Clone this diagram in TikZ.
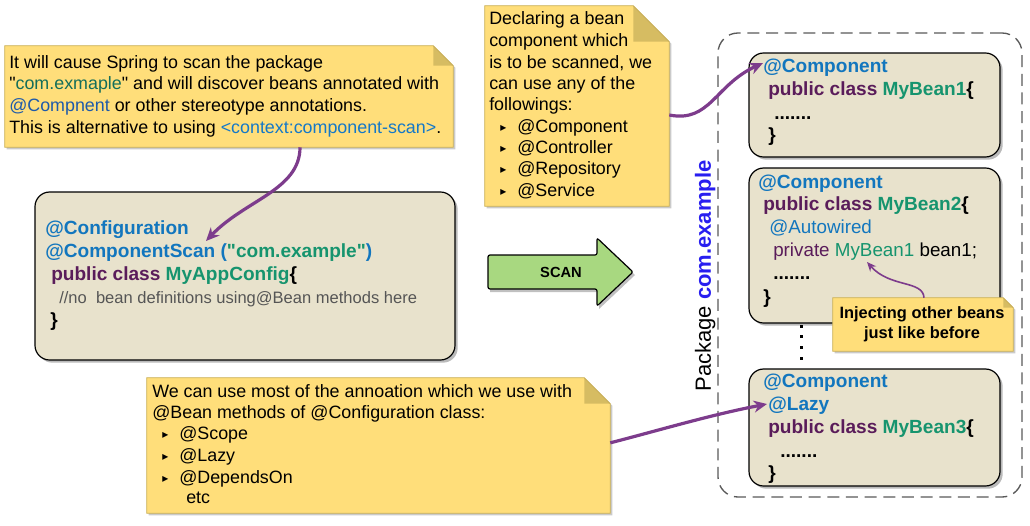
\documentclass[tikz,border=0pt]{standalone}
\usepackage{fontspec}
\setmainfont{Liberation Sans}
\newfontfamily\dejavu{DejaVu Sans}
\newfontfamily\qfont{Liberation Sans}
\usetikzlibrary{shadows,arrows.meta,fit}
\definecolor{notefill}{RGB}{255,222,122}
\definecolor{notefold}{RGB}{214,188,98}
\definecolor{noteline}{RGB}{200,175,90}
\definecolor{beige}{RGB}{232,226,204}
\definecolor{cblue}{RGB}{18,118,190}
\definecolor{cpurp}{RGB}{90,28,90}
\definecolor{cteal}{RGB}{22,148,110}
\definecolor{tealdk}{RGB}{20,110,90}
\definecolor{bluedk}{RGB}{30,90,170}
\definecolor{linkblue}{RGB}{20,120,200}
\definecolor{connpurp}{RGB}{125,60,140}
\definecolor{scangreen}{RGB}{168,216,128}
\definecolor{pkgblue}{RGB}{40,30,240}
\definecolor{cgray}{RGB}{85,85,85}
\newcommand{\bul}{\makebox[12.75pt][l]{\raisebox{0.6pt}{\dejavu\fontsize{9}{9}\selectfont ▸}}}
\newcommand{\qq}{{\qfont"}}
\newcommand{\drawnote}[2]{%
  \fill[notefill, drop shadow={shadow xshift=1.5pt, shadow yshift=-1.5pt, opacity=0.35, fill=black!60}]
    (#1.north west) -- ([xshift=-#2]#1.north east) -- ([yshift=-#2]#1.north east) -- (#1.south east) -- (#1.south west) -- cycle;
  \fill[notefold] ([xshift=-#2]#1.north east) -- ([xshift=-#2,yshift=-#2]#1.north east) -- ([yshift=-#2]#1.north east) -- cycle;
  \draw[noteline, line width=0.6pt] (#1.north west) -- ([xshift=-#2]#1.north east) -- ([yshift=-#2]#1.north east) -- (#1.south east) -- (#1.south west) -- cycle;
}
\begin{document}
\begin{tikzpicture}[x=0.75pt,y=-0.75pt,
  frame/.style={inner sep=0pt, draw=none},
  codebox/.style={inner sep=0pt, draw=black, line width=0.9pt, fill=beige, rounded corners=11pt,
    drop shadow={shadow xshift=2pt, shadow yshift=-2pt, opacity=0.45, fill=black!60}},
  nt/.style={anchor=west, inner sep=0pt, text height=9.6pt, text depth=0pt, font=\fontsize{13.4}{16}\selectfont},
  cb/.style={anchor=west, inner sep=0pt, text height=10.3pt, text depth=0pt, font=\fontsize{14.3}{17}\selectfont\bfseries},
  cr/.style={anchor=west, inner sep=0pt, text height=10.1pt, text depth=0pt, font=\fontsize{14.1}{17}\selectfont},
  conn/.style={draw=connpurp, line width=2.4pt, -{Stealth[length=10pt,width=9pt]}},
  thinconn/.style={draw=connpurp, line width=1.2pt, -{Stealth[length=7pt,width=6pt]}}
]
\useasboundingbox (0,0) rectangle (1030,525);

% ---------- frames ----------
\node[frame, fit={(5,46)(453,147)}] (note1) {};
\node[frame, fit={(485,6)(669,206)}] (note2) {};
\node[frame, fit={(147,378)(610,513)}] (note3) {};
\node[frame, fit={(833,298)(1013,351)}] (callout) {};

% package box
\node[inner sep=0pt, draw=black!65, line width=1pt, dash pattern=on 9pt off 5pt, rounded corners=15pt,
  fit={(718,33)(1022,497)}] (pkgbox) {};

\node[codebox, fit={(35,192)(455,360)}] (cfg) {};
\node[codebox, fit={(749,53)(1000,157)}] (bean1) {};
\node[codebox, fit={(749,168)(1000,323)}] (bean2) {};
\node[codebox, fit={(749,369)(1000,486)}] (bean3) {};

% dots between beans
\foreach \yy in {326,336,347,358} \fill[black] (799.5,\yy-1.5) rectangle (802.5,\yy+1.5);

\drawnote{note1}{15pt}
\drawnote{note2}{27pt}
\drawnote{note3}{19.5pt}
\drawnote{callout}{7.5pt}

% ---------- SCAN arrow ----------
\fill[black!55, opacity=0.45] (490,258) -- (599,258) -- (599,241) -- (635,275) -- (599,309) -- (599,292) -- (490,292) -- cycle;
\draw[black, line width=0.9pt, fill=scangreen, rounded corners=1.5pt]
  (488,255) -- (597,255) -- (597,238) -- (633,272) -- (597,306) -- (597,289) -- (488,289) -- cycle;
\node[inner sep=0pt, font=\fontsize{11}{13}\selectfont\bfseries] (scan) at (561,272) {SCAN};

% ---------- note 1 ----------
\node[nt] (n1a) at (9,62) {It will cause Spring to scan the package};
\node[nt] (n1b) at (9,83.5) {\qq\textcolor{tealdk}{com.exmaple}\qq{} and will discover beans annotated with};
\node[nt] (n1c) at (9,105) {\textcolor{bluedk}{@Compnent} or other stereotype annotations.};
\node[nt] (n1d) at (9,127) {This is alternative to using \textcolor{linkblue}{<context:component-scan>}.};

% ---------- note 2 ----------
\node[nt] (n2a) at (489,18) {Declaring a bean};
\node[nt] (n2b) at (489,40) {component which};
\node[nt] (n2c) at (489,62) {is to be scanned, we};
\node[nt] (n2d) at (489,83) {can use any of the};
\node[nt] (n2e) at (489,104) {followings:};
\node[nt] (n2f) at (500,126) {\bul@Component};
\node[nt] (n2g) at (500,147) {\bul@Controller};
\node[nt] (n2h) at (500,168) {\bul@Repository};
\node[nt] (n2i) at (500,190) {\bul@Service};

% ---------- note 3 ----------
\node[nt] (n3a) at (152,391) {We can use most of the annoation which we use with};
\node[nt] (n3b) at (152,412) {@Bean methods of @Configuration class:};
\node[nt] (n3c) at (162,433) {\bul@Scope};
\node[nt] (n3d) at (162,455) {\bul@Lazy};
\node[nt] (n3e) at (162,477) {\bul@DependsOn};
\node[nt] (n3f) at (186,497) {etc};

% ---------- config box ----------
\node[cb] (c1) at (45,228) {\textcolor{cblue}{@Configuration}};
\node[cb] (c2) at (45,251) {\textcolor{cblue}{@ComponentScan (}\textcolor{cteal}{\qq com.example\qq}\textcolor{cblue}{)}};
\node[cb] (c3) at (51,274) {\textcolor{cpurp}{public class} \textcolor{cteal}{MyAppConfig}\{};
\node[anchor=west, inner sep=0pt, text height=8.9pt, text depth=0pt, font=\fontsize{12.4}{15}\selectfont, text=cgray] (c4) at (59,298) {//no~ bean definitions using@Bean methods here};
\node[cb] (c5) at (50,320) {\}};

% ---------- bean 1 ----------
\node[cb] (b1a) at (763,66) {\textcolor{cblue}{@Component}};
\node[cb] (b1b) at (768,89) {\textcolor{cpurp}{public class} \textcolor{cteal}{MyBean1}\{};
\node[cb] (b1c) at (774,113) {.......};
\node[cb] (b1d) at (768,135) {\}};

% ---------- bean 2 ----------
\node[cb] (b2a) at (758,182) {\textcolor{cblue}{@Component}};
\node[cb] (b2b) at (763,204) {\textcolor{cpurp}{public class} \textcolor{cteal}{MyBean2}\{};
\node[cr] (b2c) at (769,227) {\textcolor{cblue}{@Autowired}};
\node[cr] (b2d) at (773,250) {\textcolor{cpurp}{private} \textcolor{cteal}{MyBean1} bean1;};
\node[cb] (b2e) at (773,273) {.......};
\node[cb] (b2f) at (763,297) {\}};

% ---------- bean 3 ----------
\node[cb] (b3a) at (763,381) {\textcolor{cblue}{@Component}};
\node[cb] (b3b) at (768,404) {\textcolor{cblue}{@Lazy}};
\node[cb] (b3c) at (768,427) {\textcolor{cpurp}{public class} \textcolor{cteal}{MyBean3}\{};
\node[cb] (b3d) at (780,451) {.......};
\node[cb] (b3e) at (768,473) {\}};

% ---------- callout ----------
\node[inner sep=0pt, align=center, font=\fontsize{12.3}{15}\selectfont\bfseries] (co) at (922,324) {Injecting other beans\\just like before};

% ---------- package label ----------
\node[rotate=90, inner sep=0pt, text height=11.8pt, text depth=0pt, font=\fontsize{16.5}{20}\selectfont] (pkg) at (703,276)
  {Package \textcolor{pkgblue}{\bfseries com.example}};

% ---------- connectors ----------
\coordinate (e1) at (206,241);
\coordinate (e2) at (763,63);
\coordinate (e3) at (767,404);
\coordinate (e4) at (867,262);
\draw[conn] ([xshift=53.25pt]note1.south) .. controls (300,190) and (245,200) .. (e1);
\draw[conn] ([yshift=-6.75pt]note2.east) .. controls (710,123) and (715,85) .. (e2);
\draw[conn] ([yshift=2pt]note3.east) .. controls (660,430) and (710,415) .. (e3);
\draw[thinconn] ([xshift=0.75pt]callout.north) .. controls (923,280) and (890,288) .. (e4);
\end{tikzpicture}
\end{document}
